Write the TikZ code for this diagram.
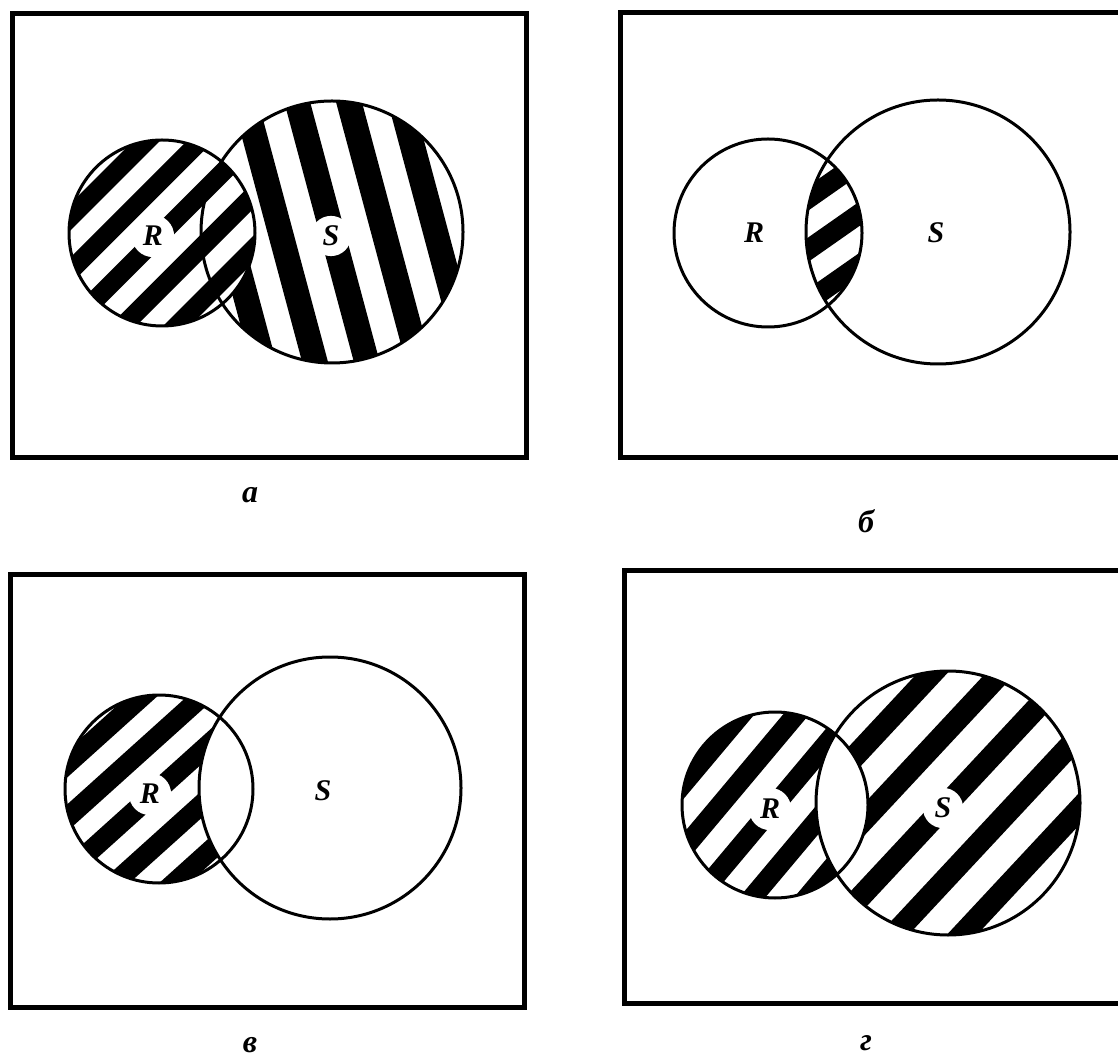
\documentclass[tikz,border=0pt]{standalone}
\usepackage{fontspec}
\setmainfont{Liberation Serif}
\newcommand{\stripefill}[6]{%
  \begin{scope}[shift={(#1,#2)}, rotate=#4]
    \foreach \k in {-9,...,9} {\fill[black] (-#3-20, \k*#5-#6/2) rectangle (#3+20, \k*#5+#6/2);}
  \end{scope}}
\begin{document}
\begin{tikzpicture}[x=1pt, y=1pt,
  frame/.style={line width=5pt, line join=miter},
  ring/.style={line width=3pt},
  setlabel/.style={circle, fill=white, inner sep=5pt, font=\fontsize{30}{30}\selectfont\bfseries\itshape},
  panellabel/.style={font=\fontsize{32}{32}\selectfont\bfseries\itshape}]
\useasboundingbox (0,0) rectangle (1118,1061);
\fill[white] (0,0) rectangle (1118,1061);

% ---------- panel a ----------
\draw[frame] (12,1047) rectangle (526,603);
\begin{scope}\clip (332,829) circle (131); \stripefill{332}{829}{131}{-75}{50}{25}\end{scope}
\begin{scope}\clip (162,828) circle (93); \fill[white] (162,828) circle (93); \stripefill{162}{828}{93}{45}{38}{19}\end{scope}
\draw[ring] (332,829) circle (131);
\draw[ring] (162,828) circle (93);
\node[setlabel] (Ra) at (153,825) {R};
\node[setlabel] (Sa) at (331,825) {S};
\node[panellabel] (la) at (250,566) {а};

% ---------- panel b ----------
\draw[frame] (1125,1048.5) -- (620,1048.5) -- (620,603) -- (1125,603);
\begin{scope}\clip (768,828) circle (94); \clip (938,829) circle (132); \stripefill{832}{828}{94}{35}{42}{20}\end{scope}
\draw[ring] (768,828) circle (94);
\draw[ring] (938,829) circle (132);
\node[setlabel] (Rb) at (754,828) {R};
\node[setlabel] (Sb) at (936,828) {S};
\node[panellabel] (lb) at (866,540) {б};

% ---------- panel v ----------
\draw[frame] (10,486) rectangle (524,54);
\begin{scope}\clip (159,272) circle (94); \stripefill{159}{272}{94}{42}{40}{20}\fill[white] (330,273) circle (131);\end{scope}
\draw[ring] (159,272) circle (94);
\draw[ring] (330,273) circle (131);
\node[setlabel] (Rv) at (150,267) {R};
\node[setlabel] (Sv) at (323,270) {S};
\node[panellabel] (lv) at (250,16) {в};

% ---------- panel g ----------
\draw[frame] (1125,490) -- (624,490) -- (624,58) -- (1125,58);
\begin{scope}\clip (948,258) circle (132); \stripefill{948}{258}{132}{47}{50}{22}\end{scope}
\begin{scope}\clip (775,256) circle (93); \stripefill{775}{256}{93}{50}{42}{20}\fill[white] (948,258) circle (132);\end{scope}
\draw[ring] (775,256) circle (93);
\draw[ring] (948,258) circle (132);
\node[setlabel] (Rg) at (770,252) {R};
\node[setlabel] (Sg) at (943,253) {S};
\node[panellabel] (lg) at (866,18) {г};
\end{tikzpicture}
\end{document}
